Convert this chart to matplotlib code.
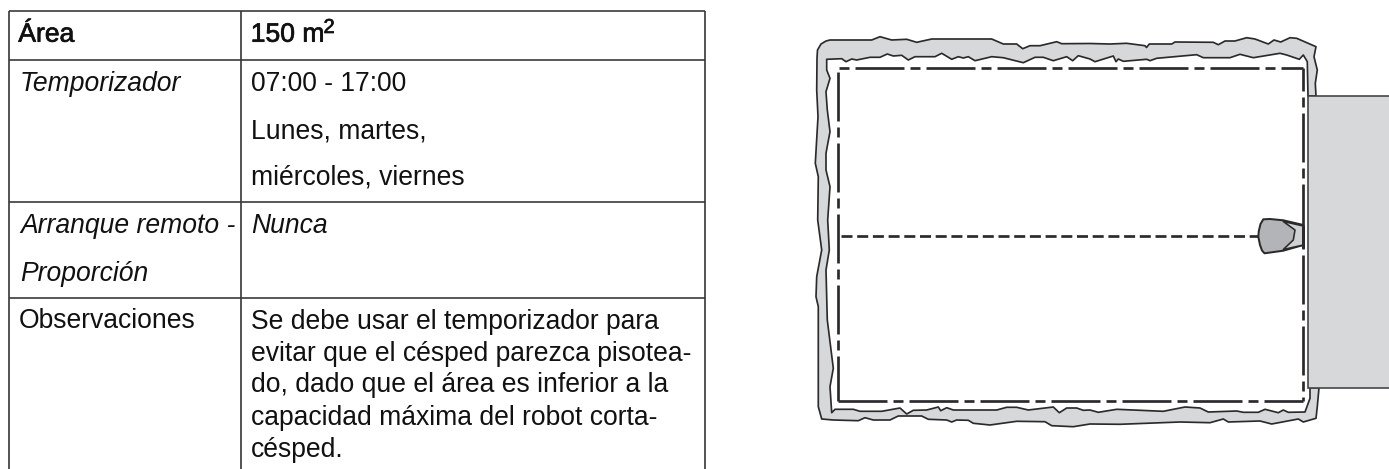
import matplotlib
matplotlib.use("Agg")
import matplotlib.pyplot as plt
import matplotlib.patheffects as pe
from matplotlib.patches import Polygon, Rectangle

plt.rcParams["font.family"] = ["Liberation Sans", "DejaVu Sans"]
plt.rcParams["lines.scale_dashes"] = False

# Table content (x, baseline y, text, style)
table_x = [9, 241, 705]
table_y = [11, 60, 202, 298, 469]
heading_left = "Área"
heading_right = "150 m"
heading_sup = "2"
left_italic = [("Temporizador", 91), ("Arranque remoto -", 233), ("Proporción", 281)]
left_plain = [("Observaciones", 328)]
right_plain = [("07:00 - 17:00", 91), ("Lunes, martes,", 138), ("miércoles, viernes", 185),
               ("Se debe usar el temporizador para", 329),
               ("evitar que el césped parezca pisotea-", 361),
               ("do, dado que el área es inferior a la", 392.5),
               ("capacidad máxima del robot corta-", 425),
               ("césped.", 457)]
right_italic = [("Nunca", 233)]

# Diagram outlines
outer_top = [(817, 58), (817.5, 50), (821, 44), (826, 41), (830, 40), (871.7, 40), (880, 36.7), (891.7, 40),
             (906.7, 39.3), (916.7, 42.3), (931.7, 39), (991.7, 39), (1003.3, 44), (1016.7, 44),
             (1022.7, 48.7), (1030, 45.7), (1040, 45.7), (1056.7, 41.7), (1061.7, 43.7), (1090, 43.5),
             (1110, 44), (1126.7, 43.3), (1145, 45.7), (1146.5, 47.5), (1149.3, 44), (1171.7, 44), (1175, 42),
             (1213.3, 42.3), (1218.3, 44.7), (1225, 41), (1235, 41), (1246.7, 37.7), (1255, 39),
             (1268.3, 44), (1274, 40), (1280.7, 42), (1290, 37.7), (1296.7, 38.3), (1316, 46.7),
             (1314, 56.7), (1317.3, 70), (1315.3, 83.3), (1316, 96)]
inner_top = [(826.7, 59.3), (841.7, 58.7), (846, 61.7), (851.7, 59), (856.7, 60), (870, 57.3), (880, 57.3),
             (887.3, 54), (893.3, 56), (901.7, 55.3), (908.3, 60), (915, 56.7), (935, 56.7), (941.7, 53.3),
             (951.7, 59.3), (958.3, 56.7), (963.3, 58), (968.3, 56.7), (975, 60.7), (991.7, 56.7),
             (1003.3, 57.7), (1023.3, 62.7), (1035, 57.3), (1043.3, 57.3), (1053.3, 60.7), (1066.7, 56.7),
             (1072.7, 60.7), (1078.3, 55.7), (1090, 59), (1095, 61.7), (1113.3, 56), (1116, 61.7),
             (1118.3, 59), (1123.3, 61.3), (1146.7, 59.3), (1150, 60.7), (1156.7, 58.3), (1196.7, 54.7),
             (1203.3, 57.7), (1230, 57.7), (1240, 54.3), (1253.3, 57.7), (1280, 53.3), (1286.7, 55),
             (1299.3, 59.3), (1303.3, 55), (1307.3, 61.7), (1308, 96)]
inner_left = [(826.7, 70), (830, 78.3), (826, 91.7), (827.3, 110), (830, 131.7), (826, 153.3), (826, 170),
              (830, 186.7), (827.7, 220), (829.3, 250), (826, 270), (827.3, 320), (833.3, 368.3),
              (830, 386.7), (831.7, 412.7)]
inner_bottom = [(835, 409.3), (853.3, 409.3), (860, 411.3), (881.7, 411.3), (900, 408), (906.7, 414),
                (913.3, 410.3), (926.7, 410), (938.3, 407), (940.7, 410.7), (946.7, 407.7), (953.3, 410),
                (996.7, 410), (1006.7, 407.3), (1016.7, 407.3), (1028.3, 410), (1053.3, 407), (1059.3, 412.7),
                (1066.7, 408), (1076.7, 408), (1083.3, 410.3), (1090, 410), (1098.3, 412.3), (1116.7, 409.3),
                (1163.3, 411.3), (1185, 407), (1200, 408), (1208.3, 412), (1236.7, 411), (1243.3, 412.3),
                (1258.3, 412.3), (1265, 409.3), (1278.3, 412.7), (1283.3, 410), (1288.3, 412.3), (1305, 412),
                (1310, 398.3), (1310, 387.7)]
outer_bottom = [(1319, 387.7), (1317.3, 406.7), (1316, 418.3), (1303.3, 422), (1298.3, 419), (1271.7, 424),
                (1260, 421), (1228.3, 422), (1223.3, 419), (1210, 422.7), (1180, 422), (1120, 424.3),
                (1090, 424), (1073.3, 426.7), (1051.7, 425.7), (1045, 421.7), (1016.7, 421.3), (990, 425),
                (973.3, 423.3), (968.3, 420.3), (956.7, 420), (951.7, 422), (946.7, 420), (928.3, 419.3),
                (921.7, 416), (898.3, 416), (890, 420), (873.3, 420), (865, 417.7), (858.3, 420.7),
                (833.3, 420), (821.7, 419), (818.3, 406.7)]
outer_left = [(818.3, 306.7), (816, 296.7), (816.7, 276.7), (821.7, 250), (817.7, 220), (818.3, 176.7),
              (815.3, 163.3), (818, 116.7), (816.7, 90)]
building_x = [1308, 1389]
building_y = [96, 387.7]

boundary_left, boundary_right = 837.7, 1303.3
boundary_top, boundary_bottom = 67.7, 401
path_y = 236
path_x = [841.3, 1258]

robot_body = [(1303.3, 225), (1283.3, 220.3), (1270, 219), (1263.3, 219.3), (1260.5, 224), (1258.8, 231),
              (1258.3, 236.7), (1260, 245), (1262, 250.5), (1264.5, 253.3), (1283.3, 250.7), (1303.3, 245)]
robot_front = [(1283.3, 221.5), (1303.3, 226), (1303.3, 245), (1283.3, 249.5), (1293.3, 240),
               (1295, 230)]
robot_tip_x = [1302.5, 1302.5]
robot_tip_y = [226, 248]

INK = "#2a2a2c"
BAND = "#d7d8da"
px = 0.72  # points per pixel at 100 dpi

fig = plt.figure(figsize=(13.89, 4.69), dpi=100, facecolor="white")
ax = fig.add_axes([0, 0, 1, 1])
ax.set_xlim(0, 1389)
ax.set_ylim(469, 0)
ax.axis("off")

# Table
ax.hlines(table_y[:-1], table_x[0], table_x[-1], color="#333333", lw=1.6 * px, zorder=2)
ax.vlines(table_x, table_y[0], table_y[-1], color="#3a3a3a", lw=1.7 * px, zorder=2)

FS = 19.1
TXT = "#111111"
bold = [pe.withStroke(linewidth=0.5, foreground=TXT)]
ax.text(18.3, 41.7, heading_left, fontsize=FS, color=TXT, path_effects=bold)
ax.text(250.7, 41.7, heading_right, fontsize=FS, color=TXT, path_effects=bold)
ax.text(323.5, 33, heading_sup, fontsize=14.5, color=TXT, path_effects=bold)
for s, y in left_italic:
    ax.text(20, y, s, fontsize=FS, style="italic", color=TXT)
for s, y in left_plain:
    ax.text(18.3, y, s, fontsize=FS, color=TXT)
for s, y in right_plain:
    ax.text(250.7, y, s, fontsize=FS, color=TXT)
for s, y in right_italic:
    ax.text(251.5, y, s, fontsize=FS, style="italic", color=TXT)

# Grass band
band = outer_top + inner_top[::-1] + inner_left + inner_bottom + outer_bottom + outer_left
ax.add_patch(Polygon(band, closed=True, facecolor=BAND, edgecolor=INK, lw=1.7 * px,
                     joinstyle="round", zorder=3))

# Building
ax.add_patch(Rectangle((building_x[0], building_y[0]), building_x[1] - building_x[0] + 5,
                       building_y[1] - building_y[0], facecolor=BAND, edgecolor="#404042",
                       lw=1.6 * px, zorder=4))

# Boundary wire (dash-dot)
lw_wire = 2.7 * px
long_d, gap, short_d = 49 * px, 6 * px, 10 * px
wire_a = (0, (long_d, gap, short_d, gap))
wire_b = (0, (short_d, gap, long_d, gap))
wire_c = (26 * px, (long_d, gap, short_d, gap))
kw = dict(color=INK, lw=lw_wire, dash_capstyle="butt", zorder=5)
ax.plot([839.3, boundary_right], [boundary_top] * 2, ls=wire_b, **kw)
ax.plot([boundary_left] * 2, [71.7, boundary_bottom], ls=wire_a, **kw)
ax.plot([boundary_left, boundary_right], [boundary_bottom] * 2, ls=wire_a, **kw)
ax.plot([boundary_right] * 2, [boundary_top, boundary_bottom], ls=wire_c, **kw)

# Mower path (dashed)
ax.plot(path_x, [path_y] * 2, ls=(0, (11 * px, 4.7 * px)), **kw)

# Mower
ax.add_patch(Polygon(robot_body, closed=True, facecolor="#b3b4b7", edgecolor=INK, lw=2 * px,
                     joinstyle="round", zorder=6))
ax.add_patch(Polygon(robot_front, closed=True, facecolor="#d0d1d3", edgecolor=INK, lw=1.6 * px,
                     joinstyle="round", zorder=7))
ax.plot(robot_tip_x, robot_tip_y, color=INK, lw=3 * px, solid_capstyle="butt", zorder=8)

fig.savefig("out.png", dpi=100, facecolor="white")
